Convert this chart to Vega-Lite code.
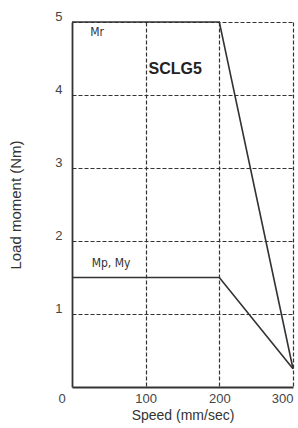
{
  "$schema": "https://vega.github.io/schema/vega-lite/v6.json",
  "width": 221,
  "height": 365,
  "autosize": "none",
  "padding": {"left": 72, "top": 22, "right": 5, "bottom": 41},
  "background": "white",
  "config": {"view": {"stroke": null}},
  "datasets": {
    "lines": [
      {"speed": 0, "moment": 5, "series": "Mr"},
      {"speed": 200, "moment": 5, "series": "Mr"},
      {"speed": 300, "moment": 0.25, "series": "Mr"},
      {"speed": 0, "moment": 1.5, "series": "Mp, My"},
      {"speed": 200, "moment": 1.5, "series": "Mp, My"},
      {"speed": 300, "moment": 0.25, "series": "Mp, My"}
    ],
    "labels": [
      {"speed": 34, "moment": 4.86, "text": "Mr", "kind": "small"},
      {"speed": 53, "moment": 1.7, "text": "Mp, My", "kind": "small"},
      {"speed": 140, "moment": 4.36, "text": "SCLG5", "kind": "big"}
    ]
  },
  "layer": [
    {
      "data": {"name": "lines"},
      "mark": {"type": "line", "color": "#333333", "strokeWidth": 1.6},
      "encoding": {
        "x": {
          "field": "speed", "type": "quantitative",
          "scale": {"domain": [0, 300], "nice": false},
          "axis": {
            "values": [0, 100, 200, 300],
            "format": "d",
            "title": "Speed (mm/sec)",
            "titleFont": "Liberation Sans", "titleFontSize": 14, "titleFontWeight": "normal", "titleColor": "#333333", "titlePadding": 3,
            "labelFont": "Liberation Sans", "labelFontSize": 13, "labelColor": "#444444", "labelPadding": 5,
            "labelOffset": {"condition": {"test": "datum.value == 0", "value": -14}, "value": 0},
            "ticks": false,
            "domainColor": "#333333", "domainWidth": 1.8,
            "grid": true, "gridColor": "#333333", "gridDash": [4, 2], "gridWidth": 1.2,
            "gridOpacity": {"condition": {"test": "datum.value == 0", "value": 0}, "value": 1}
          }
        },
        "y": {
          "field": "moment", "type": "quantitative",
          "scale": {"domain": [0, 5], "nice": false},
          "axis": {
            "values": [1, 2, 3, 4, 5],
            "format": "d",
            "title": "Load moment (Nm)",
            "titleFont": "Liberation Sans", "titleFontSize": 15, "titleFontWeight": "normal", "titleColor": "#333333", "titlePadding": 31,
            "labelFont": "Liberation Sans", "labelFontSize": 13, "labelColor": "#444444", "labelPadding": 10,
            "labelOffset": -6,
            "ticks": false,
            "domainColor": "#333333", "domainWidth": 1.8,
            "grid": true, "gridColor": "#333333", "gridDash": [4, 2], "gridWidth": 1.2
          }
        },
        "detail": {"field": "series"}
      }
    },
    {
      "data": {"name": "labels"},
      "transform": [{"filter": "datum.kind == 'small'"}],
      "mark": {"type": "text", "font": "DejaVu Sans Condensed", "fontSize": 12, "fill": "#333333", "align": "center", "baseline": "middle"},
      "encoding": {
        "x": {"field": "speed", "type": "quantitative"},
        "y": {"field": "moment", "type": "quantitative"},
        "text": {"field": "text"}
      }
    },
    {
      "data": {"name": "labels"},
      "transform": [{"filter": "datum.kind == 'big'"}],
      "mark": {"type": "text", "font": "Liberation Sans", "fontSize": 16, "fontWeight": "bold", "fill": "#222222", "align": "center", "baseline": "middle"},
      "encoding": {
        "x": {"field": "speed", "type": "quantitative"},
        "y": {"field": "moment", "type": "quantitative"},
        "text": {"field": "text"}
      }
    }
  ]
}
